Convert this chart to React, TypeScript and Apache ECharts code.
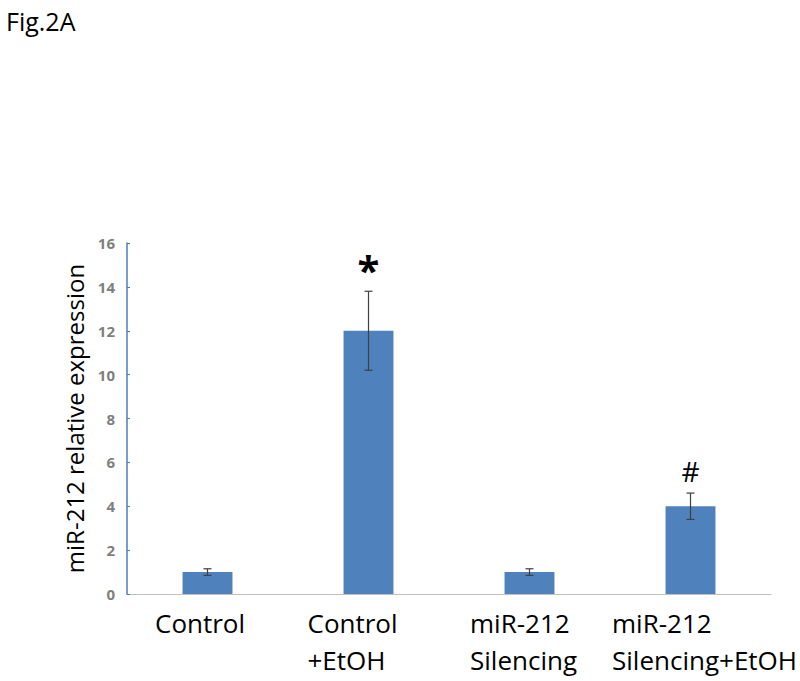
import React, { useEffect, useRef } from "react";
import * as echarts from "echarts";

const categories = ["Control", "Control\n+EtOH", "miR-212\nSilencing", "miR-212\nSilencing+EtOH"];
const values = [1, 12, 1, 4];
const errors = [0.15, 1.8, 0.15, 0.6];
const marks = ["", "*", "", "#"];
const yTicks = { min: 0, max: 16, interval: 2 };

const labelWidths = [105, 122, 119, 157];

export default function App() {
  const ref = useRef<HTMLDivElement>(null);
  useEffect(() => {
    document.body.style.margin = "0";
    const chart = echarts.init(ref.current!, undefined, { renderer: "svg" });
    const rich: any = {};
    labelWidths.forEach((w, i) => {
      rich["w" + i] = {
        width: w,
        align: "left",
        fontSize: 26,
        lineHeight: 37,
        color: "#000",
        fontFamily: "Open Sans",
      };
    });
    chart.setOption({
      animation: false,
      backgroundColor: "#fff",
      title: {
        text: "Fig.2A",
        left: 1,
        top: 3,
        textStyle: { fontSize: 25, fontWeight: "normal", color: "#000", fontFamily: "Open Sans" },
      },
      grid: { left: 127, right: 29, top: 243, bottom: 87 },
      xAxis: {
        type: "category",
        data: categories,
        axisLine: { lineStyle: { color: "#bfbfbf", width: 1 } },
        axisTick: { show: false },
        axisLabel: {
          interval: 0,
          margin: 10,
          formatter: (v: string, i: number) =>
            v.split("\n").map((l) => `{w${i}|${l}}`).join("\n"),
          rich,
        },
      },
      yAxis: {
        type: "value",
        min: yTicks.min,
        max: yTicks.max,
        interval: yTicks.interval,
        name: "miR-212 relative expression",
        nameLocation: "middle",
        nameGap: 38,
        nameTextStyle: { fontSize: 24, color: "#000", fontFamily: "Open Sans" },
        axisLine: { show: true, lineStyle: { color: "#4a7ebb", width: 1.5 } },
        axisTick: { show: true, inside: true, length: 3, lineStyle: { color: "#4a7ebb" } },
        axisLabel: {
          fontSize: 15,
          fontWeight: "bold",
          color: "#7f7f7f",
          margin: 12,
          fontFamily: "Open Sans",
        },
        splitLine: { show: false },
      },
      series: [
        {
          type: "bar",
          data: values,
          barWidth: "31%",
          itemStyle: { color: "#4f81bd" },
        },
        {
          type: "custom",
          data: values.map((v, i) => [i, v - errors[i], v + errors[i]]),
          z: 10,
          renderItem: (params: any, api: any) => {
            const i = api.value(0);
            const lo = api.coord([i, api.value(1)]);
            const hi = api.coord([i, api.value(2)]);
            const x = lo[0];
            const cap = 4;
            const style = { stroke: "#404040", lineWidth: 1.2 };
            const children: any[] = [
              { type: "line", shape: { x1: x, y1: lo[1], x2: x, y2: hi[1] }, style },
              { type: "line", shape: { x1: x - cap, y1: lo[1], x2: x + cap, y2: lo[1] }, style },
              { type: "line", shape: { x1: x - cap, y1: hi[1], x2: x + cap, y2: hi[1] }, style },
            ];
            const m = marks[params.dataIndex];
            if (m) {
              children.push({
                type: "text",
                x: x,
                y: hi[1] - (m === "*" ? 2 : 8),
                style: {
                  text: m,
                  fill: "#000",
                  fontSize: m === "*" ? 40 : 28,
                  fontWeight: m === "*" ? "bold" : "normal",
                  fontFamily: "Open Sans",
                  align: "center",
                  verticalAlign: "bottom",
                },
              });
            }
            return { type: "group", children };
          },
        },
      ],
    });
    return () => chart.dispose();
  }, []);
  return <div ref={ref} style={{ width: 800, height: 681 }} />;
}
